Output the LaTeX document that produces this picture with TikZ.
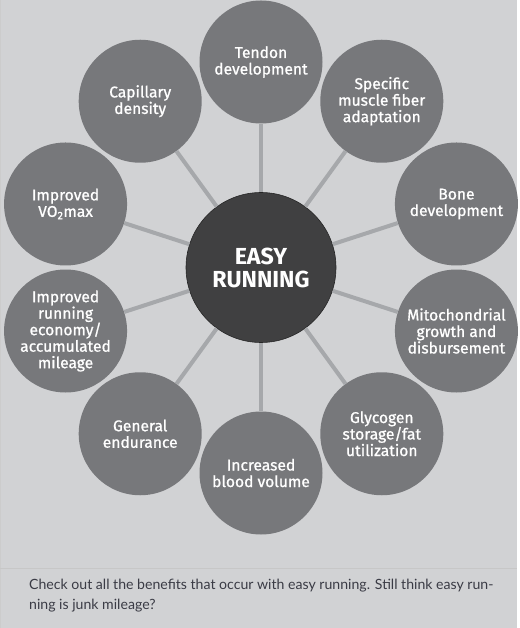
\documentclass[tikz,border=0pt]{standalone}
\usepackage{fontspec}
\setmainfont{Fira Sans}
\newfontfamily\bubfont{Fira Sans}[FakeBold=0.9]
\newfontfamily\capfont{Lato}
\usetikzlibrary{positioning}
\definecolor{pagegray}{HTML}{D1D2D4}
\definecolor{bubgray}{HTML}{77787B}
\definecolor{hubgray}{HTML}{404041}
\definecolor{spokegray}{HTML}{A6A8AB}
\definecolor{capink}{HTML}{3A3B45}
\tikzset{
  hub/.style={circle,fill=hubgray,draw=black!85,line width=0.6pt,minimum size=150pt,inner sep=0pt,
    text=white,align=center,font=\fontsize{23.2}{23}\selectfont\bfseries},
  bub/.style={circle,fill=bubgray,minimum size=123pt,inner sep=0pt,
    text=white,align=center,font=\bubfont\fontsize{15.6}{16.5}\selectfont},
  spoke/.style={line width=4pt,spokegray},
  rule/.style={line width=1pt,black!22},
  captxt/.style={anchor=north west,inner sep=0pt,align=left,text=capink,
    font=\capfont\fontsize{14.1}{20}\selectfont},
}
\begin{document}
\begin{tikzpicture}[x=1pt,y=1pt]
  % page and caption rule
  \useasboundingbox (-261,-360.5) rectangle (258,267.5);
  \fill[pagegray] (-261,-360.5) rectangle (256,267.5);
  \fill[white] (256,-360.5) rectangle (258,267.5);
  \draw[black!20,line width=0.8pt] (-260.6,-360.5) -- (-260.6,267.5);
  \draw[rule] (-261,-300.5) -- (256,-300.5);
  % hub and ring of benefits
  \node[hub] (hub) at (0,0) {EASY\\RUNNING};
  \node[bub] (tendon) at (90:205.5) {Tendon\\development};
  \node[bub] (fiber)  at (54:205.5) {Specific\\muscle fiber\\adaptation};
  \node[bub] (bone)   at (18:205.5) {Bone\\development};
  \node[bub] (mito)   at (-18:205.5) {Mitochondrial\\growth and\\disbursement};
  \node[bub] (glyco)  at (-54:205.5) {Glycogen\\storage/fat\\utilization};
  \node[bub] (blood)  at (-90:205.5) {Increased\\blood volume};
  \node[bub] (endur)  at (-126:205.5) {General\\endurance};
  \node[bub] (econ)   at (-162:205.5) {Improved\\running\\economy/\\accumulated\\mileage};
  \node[bub] (vomax)  at (162:205.5) {Improved\\VO\textsubscript{2}max};
  \node[bub] (capil)  at (126:205.5) {Capillary\\density};
  \foreach \b in {tendon,fiber,bone,mito,glyco,blood,endur,econ,vomax,capil}
    \draw[spoke] (hub) -- (\b);
  % caption
  \node[captxt] (cap) at (-232,-311.5) {Check out all the benefits that occur with easy running. Still think easy run-\\ning is junk mileage?};
\end{tikzpicture}
\end{document}
